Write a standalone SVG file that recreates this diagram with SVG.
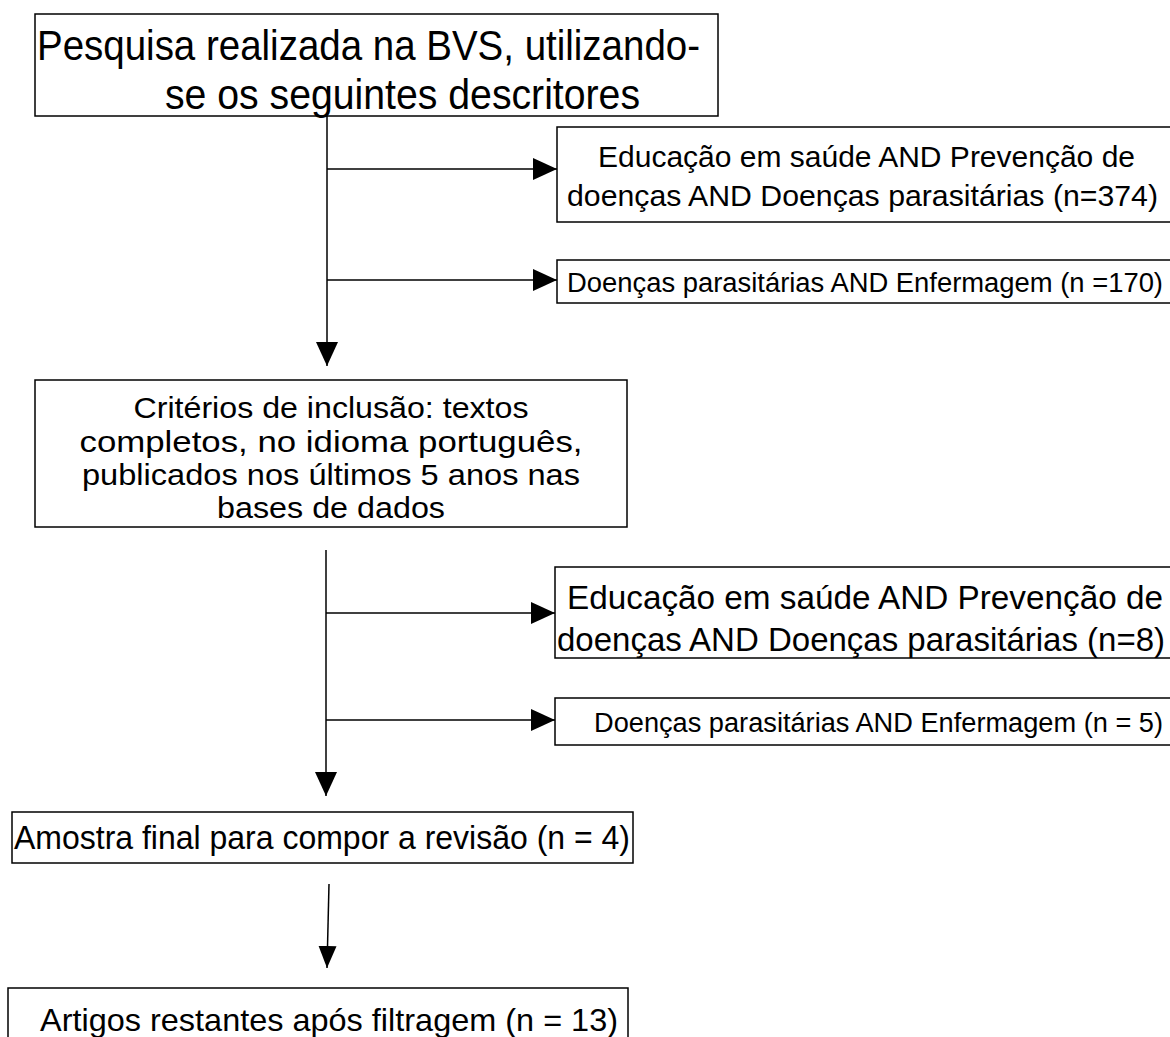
<svg xmlns="http://www.w3.org/2000/svg" width="1170" height="1037" viewBox="0 0 1170 1037">
<style>
.box{fill:#fff;stroke:#000;stroke-width:1.5}
.t{font-family:"Liberation Sans",Arial,sans-serif;fill:#000}
.ln{stroke:#000;stroke-width:1.5;fill:none}
</style>
<defs>
<marker id="ah" markerUnits="userSpaceOnUse" markerWidth="24" markerHeight="24" viewBox="0 0 24 24" refX="24" refY="12" orient="auto">
<path d="M0,1 L24,12 L0,23 Z" fill="#000"/>
</marker>
<marker id="ahs" markerUnits="userSpaceOnUse" markerWidth="22" markerHeight="20" viewBox="0 0 22 20" refX="22" refY="10" orient="auto">
<path d="M0,1 L22,10 L0,19 Z" fill="#000"/>
</marker>
</defs>
<rect width="1170" height="1037" fill="#fff"/>
<g id="connectors">
<line class="ln" x1="327" y1="116" x2="327" y2="366" marker-end="url(#ah)"/>
<line class="ln" x1="327" y1="169" x2="557" y2="169" marker-end="url(#ah)"/>
<line class="ln" x1="327" y1="280" x2="557" y2="280" marker-end="url(#ah)"/>
<line class="ln" x1="326" y1="550" x2="326" y2="796" marker-end="url(#ah)"/>
<line class="ln" x1="326" y1="613" x2="555" y2="613" marker-end="url(#ah)"/>
<line class="ln" x1="326" y1="720" x2="555" y2="720" marker-end="url(#ah)"/>
<line class="ln" x1="329" y1="884" x2="327" y2="968" marker-end="url(#ahs)"/>
</g>
<g id="node1">
<rect class="box" x="35" y="14" width="683" height="102"/>
<text class="t" x="37" y="60" font-size="42" textLength="663" lengthAdjust="spacingAndGlyphs">Pesquisa realizada na BVS, utilizando-</text>
<text class="t" x="165" y="109" font-size="42" textLength="475" lengthAdjust="spacingAndGlyphs">se os seguintes descritores</text>
</g>
<g id="node2">
<rect class="box" x="557" y="127" width="620" height="95"/>
<text class="t" x="598" y="167" font-size="30" textLength="537" lengthAdjust="spacingAndGlyphs">Educação em saúde AND Prevenção de</text>
<text class="t" x="567" y="206" font-size="30" textLength="591" lengthAdjust="spacingAndGlyphs">doenças AND Doenças parasitárias (n=374)</text>
</g>
<g id="node3">
<rect class="box" x="557" y="260" width="620" height="43"/>
<text class="t" x="567" y="292" font-size="27" textLength="596" lengthAdjust="spacingAndGlyphs">Doenças parasitárias AND Enfermagem (n =170)</text>
</g>
<g id="node4">
<rect class="box" x="35" y="380" width="592" height="147"/>
<text class="t" x="331" y="418" font-size="30" text-anchor="middle" textLength="395" lengthAdjust="spacingAndGlyphs">Critérios de inclusão: textos</text>
<text class="t" x="331" y="452" font-size="30" text-anchor="middle" textLength="503" lengthAdjust="spacingAndGlyphs">completos, no idioma português,</text>
<text class="t" x="331" y="485" font-size="30" text-anchor="middle" textLength="498" lengthAdjust="spacingAndGlyphs">publicados nos últimos 5 anos nas</text>
<text class="t" x="331" y="518" font-size="30" text-anchor="middle" textLength="228" lengthAdjust="spacingAndGlyphs">bases de dados</text>
</g>
<g id="node5">
<rect class="box" x="555" y="567" width="622" height="91"/>
<text class="t" x="567" y="609" font-size="33" textLength="596" lengthAdjust="spacingAndGlyphs">Educação em saúde AND Prevenção de</text>
<text class="t" x="557" y="651" font-size="33">doenças AND Doenças parasitárias (n=8)</text>
</g>
<g id="node6">
<rect class="box" x="555" y="698" width="622" height="47"/>
<text class="t" x="594" y="732" font-size="27" textLength="569" lengthAdjust="spacingAndGlyphs">Doenças parasitárias AND Enfermagem (n = 5)</text>
</g>
<g id="node7">
<rect class="box" x="12" y="812" width="621" height="51"/>
<text class="t" x="14" y="849" font-size="33" textLength="616" lengthAdjust="spacingAndGlyphs">Amostra final para compor a revisão (n = 4)</text>
</g>
<g id="node8">
<rect class="box" x="8" y="988" width="620" height="60"/>
<text class="t" x="40" y="1031" font-size="32" textLength="578" lengthAdjust="spacingAndGlyphs">Artigos restantes após filtragem (n = 13)</text>
</g>
</svg>
